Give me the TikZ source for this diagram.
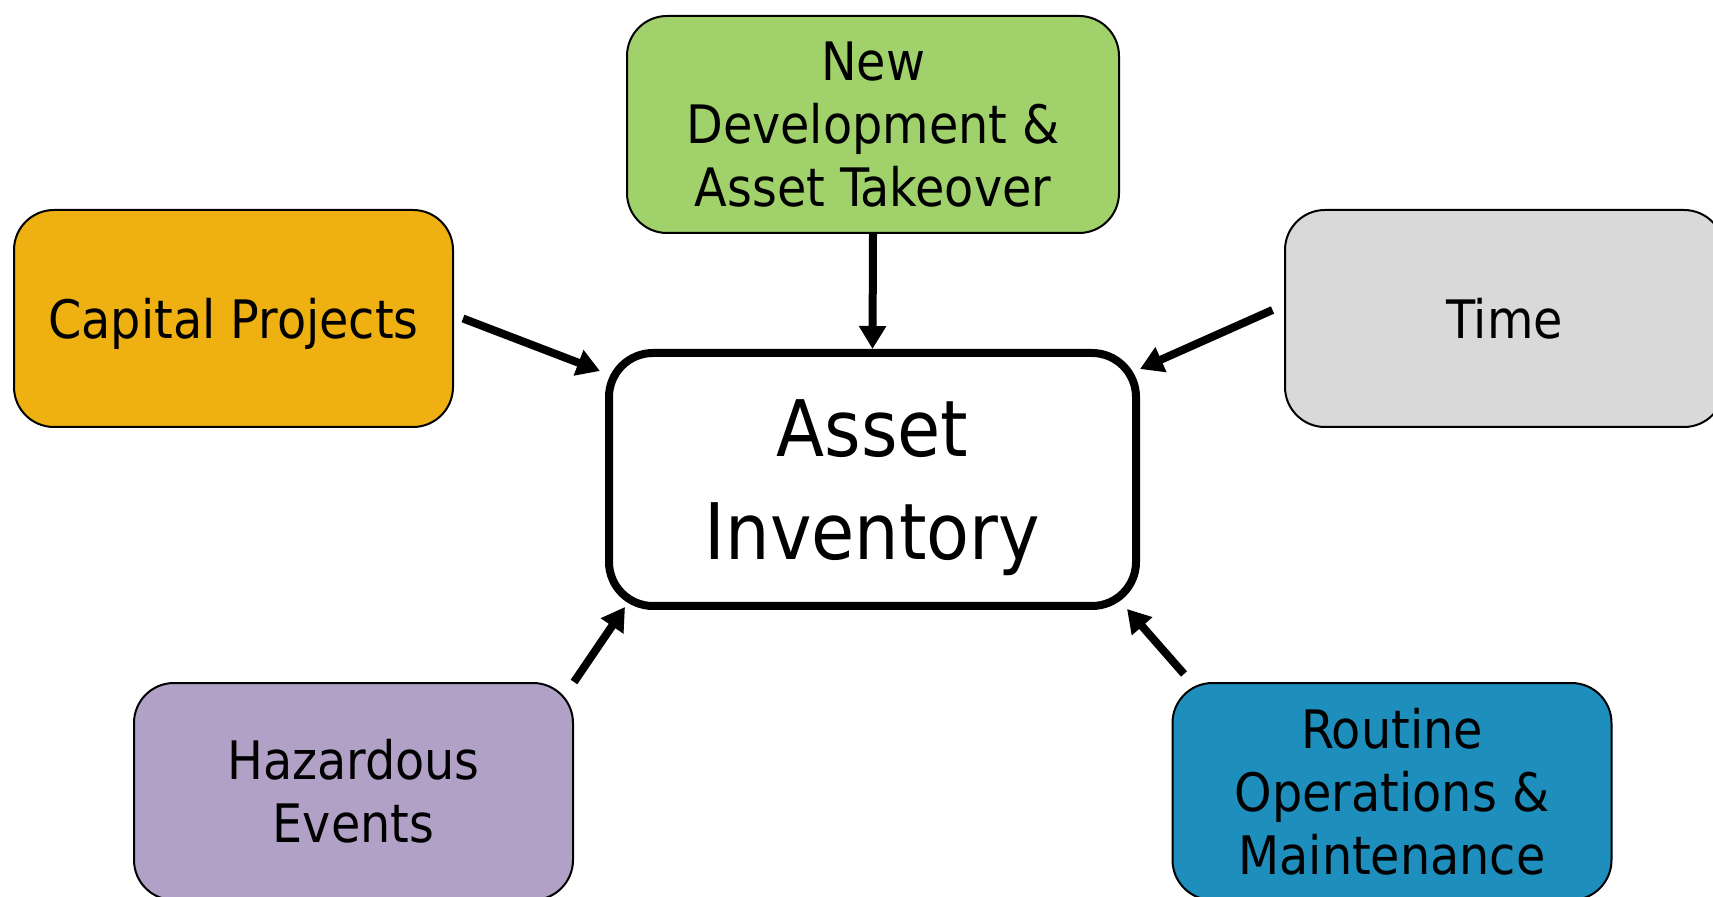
\documentclass[tikz,border=0pt]{standalone}
\usepackage{fontspec}
\setmainfont{DejaVu Sans Condensed}
\usetikzlibrary{arrows.meta,calc}
\definecolor{cgreen}{HTML}{A0D16B}
\definecolor{cgold}{HTML}{EEB111}
\definecolor{cgrey}{HTML}{D9D9D9}
\definecolor{cpurple}{HTML}{B2A1C7}
\definecolor{cblue}{HTML}{1E8EBC}
\begin{document}
\begin{tikzpicture}[x=0.5pt,y=-0.5pt,
  box/.style={draw=black,line width=1pt,rounded corners=20pt,minimum width=219.5pt,minimum height=108.5pt,align=center,inner sep=0pt,font=\fontsize{26.5}{31.5}\selectfont},
  hub/.style={draw=black,line width=4pt,rounded corners=22pt,minimum width=263.5pt,minimum height=126.5pt,align=center,inner sep=0pt,text depth=0pt,font=\fontsize{39}{51.5}\selectfont,fill=white},
  arr/.style={line width=4pt,-{Triangle[length=11.5pt,width=13pt]}}]
\useasboundingbox (0,0) rectangle (1713,897);
\node[hub] (asset) at (872.5,479.5) {Asset\\Inventory};
\node[box,fill=cgreen,minimum width=246pt] (dev) at (873,124.5) {New\\Development \&\\Asset Takeover};
\node[box,fill=cgold,text depth=0pt] (cap) at (233.5,318.5) {Capital Projects};
\node[box,fill=cgrey] (time) at (1504.5,318.5) {Time};
\node[box,fill=cpurple] (haz) at (353.5,791.5) {Hazardous\\Events};
\node[box,fill=cblue] (rout) at (1392,791.5) {Routine\\Operations \&\\Maintenance};
\draw[arr] ($(cap.east)+(9,0)$) -- ($(asset.north west)+(-5,22)$);
\draw[arr] (dev.south) -- (asset.north);
\draw[arr] ($(time.west)+(-11.5,-8.5)$) -- ($(asset.north east)+(0,20)$);
\draw[arr] (haz.north east) -- ($(asset.south west)+(20,-3)$);
\draw[arr] ($(rout.north west)+(12.5,-8)$) -- ($(asset.south east)+(-13,-1)$);
\end{tikzpicture}
\end{document}
